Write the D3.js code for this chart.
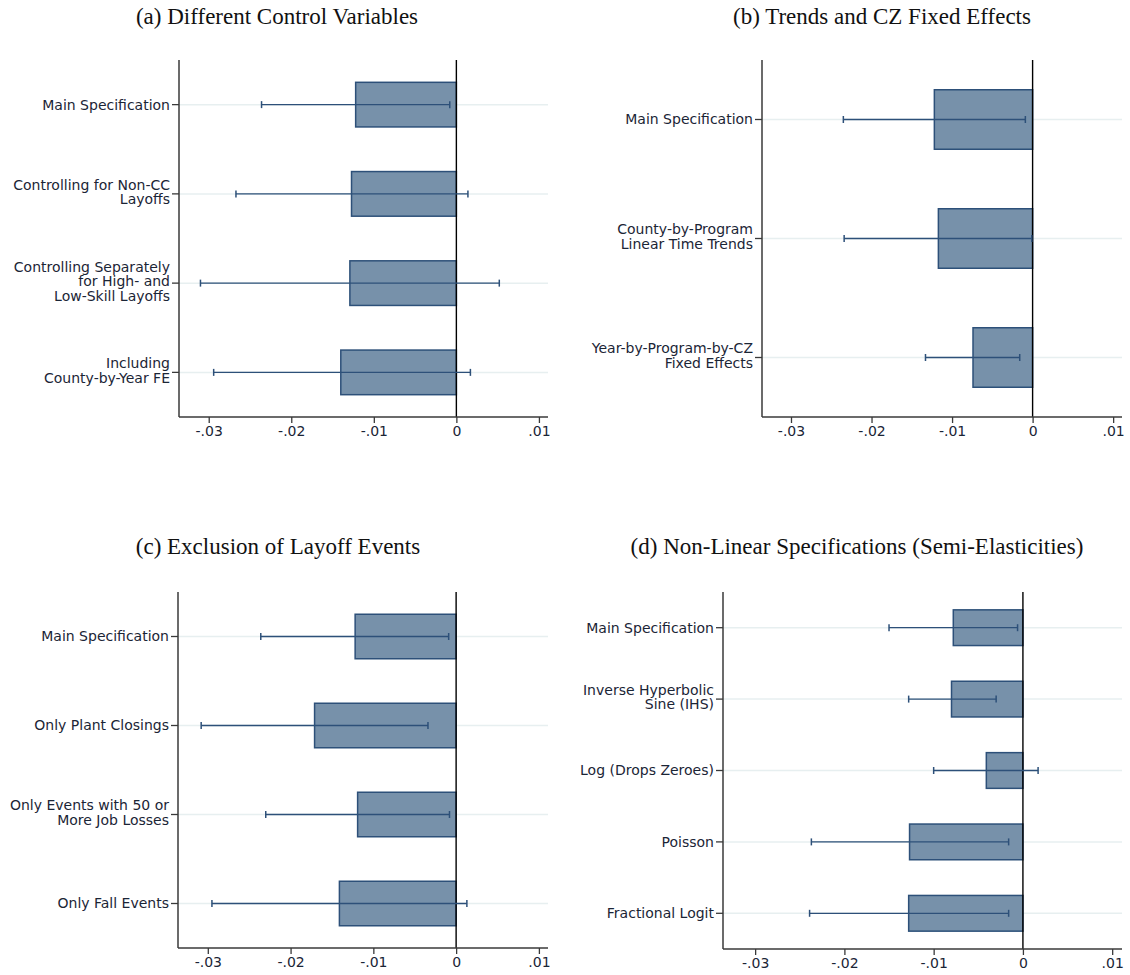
<!DOCTYPE html>
<html>
<head>
<meta charset="utf-8">
<script src="https://cdn.jsdelivr.net/npm/d3@7"></script>
<style>
  html, body { margin: 0; padding: 0; background: #fff; }
  svg { display: block; }
</style>
</head>
<body>
<svg id="chart" width="1130" height="975"></svg>
<script>
// Coefficient estimates with 95% confidence intervals, one set per panel.
const labelsA = [["Main Specification"], ["Controlling for Non-CC", "Layoffs"],
  ["Controlling Separately", "for High- and", "Low-Skill Layoffs"], ["Including", "County-by-Year FE"]];
const coefA = [-0.0122, -0.0127, -0.0129, -0.0140];
const lowA  = [-0.0236, -0.0267, -0.0310, -0.0294];
const highA = [-0.0008,  0.0014,  0.0052,  0.0017];

const labelsB = [["Main Specification"], ["County-by-Program", "Linear Time Trends"],
  ["Year-by-Program-by-CZ", "Fixed Effects"]];
const coefB = [-0.0122, -0.0117, -0.0074];
const lowB  = [-0.0235, -0.0234, -0.0133];
const highB = [-0.0009, -0.0001, -0.0016];

const labelsC = [["Main Specification"], ["Only Plant Closings"],
  ["Only Events with 50 or", "More Job Losses"], ["Only Fall Events"]];
const coefC = [-0.0122, -0.0171, -0.0119, -0.0141];
const lowC  = [-0.0236, -0.0308, -0.0230, -0.0295];
const highC = [-0.0009, -0.0034, -0.0008,  0.0013];

const labelsD = [["Main Specification"], ["Inverse Hyperbolic", "Sine (IHS)"],
  ["Log (Drops Zeroes)"], ["Poisson"], ["Fractional Logit"]];
const coefD = [-0.0078, -0.0080, -0.0041, -0.0127, -0.0128];
const lowD  = [-0.0150, -0.0128, -0.0100, -0.0237, -0.0239];
const highD = [-0.0006, -0.0030,  0.0017, -0.0016, -0.0016];

const titles = ["(a) Different Control Variables", "(b) Trends and CZ Fixed Effects",
  "(c) Exclusion of Layoff Events", "(d) Non-Linear Specifications (Semi-Elasticities)"];
const xTicks = [-0.03, -0.02, -0.01, 0, 0.01];
const xTickLabels = ["-.03", "-.02", "-.01", "0", ".01"];
const xDomain = [-0.0336, 0.0111];

// Panel frames (plot area) and title anchors
const frames = [
  { left: 179, right: 548,  top: 60,  bottom: 417, titleX: 277, titleY: 24 },
  { left: 762, right: 1122, top: 60,  bottom: 417, titleX: 882, titleY: 24 },
  { left: 178, right: 548,  top: 592, bottom: 948, titleX: 278, titleY: 554 },
  { left: 723, right: 1122, top: 592, bottom: 949, titleX: 857, titleY: 554 }
];

const panels = [
  { labels: labelsA, coef: coefA, low: lowA, high: highA },
  { labels: labelsB, coef: coefB, low: lowB, high: highB },
  { labels: labelsC, coef: coefC, low: lowC, high: highC },
  { labels: labelsD, coef: coefD, low: lowD, high: highD }
];

const BAR_FILL = "#7791aa";
const BAR_STROKE = "#2d5079";
const CI_COLOR = "#2d5079";
const GRID = "#e7eff0";
const AXIS = "#3a3a3a";
const TEXT = "#1b2536";
const SANS = "'DejaVu Sans', Verdana, sans-serif";
const SERIF = "'Liberation Serif', 'Times New Roman', serif";

const svg = d3.select("#chart");

panels.forEach((p, i) => {
  const f = frames[i];
  const idx = p.coef.map((_, k) => k);
  const x = d3.scaleLinear().domain(xDomain).range([f.left, f.right]);
  const y = d3.scaleBand().domain(idx).range([f.top, f.bottom])
    .paddingInner(0.5).paddingOuter(0.25);
  const cy = k => y(k) + y.bandwidth() / 2;

  const g = svg.append("g");

  // Title
  g.append("text")
    .attr("x", f.titleX).attr("y", f.titleY)
    .attr("text-anchor", "middle")
    .attr("font-family", SERIF).attr("font-size", 23)
    .attr("fill", "#111")
    .text(titles[i]);

  // Horizontal grid lines at each specification
  g.selectAll("line.grid").data(idx).join("line")
    .attr("class", "grid")
    .attr("x1", f.left).attr("x2", f.right)
    .attr("y1", cy).attr("y2", cy)
    .attr("stroke", GRID).attr("stroke-width", 1.5);

  // Bars from zero to the point estimate
  g.selectAll("rect.bar").data(idx).join("rect")
    .attr("class", "bar")
    .attr("x", k => Math.min(x(p.coef[k]), x(0)))
    .attr("width", k => Math.abs(x(p.coef[k]) - x(0)))
    .attr("y", k => y(k))
    .attr("height", y.bandwidth())
    .attr("fill", BAR_FILL)
    .attr("stroke", BAR_STROKE).attr("stroke-width", 1.5);

  // Zero reference line
  g.append("line")
    .attr("x1", x(0)).attr("x2", x(0))
    .attr("y1", f.top).attr("y2", f.bottom)
    .attr("stroke", "#000").attr("stroke-width", 1.4);

  // Confidence intervals
  const ci = g.selectAll("g.ci").data(idx).join("g").attr("class", "ci");
  ci.append("line")
    .attr("x1", k => x(p.low[k])).attr("x2", k => x(p.high[k]))
    .attr("y1", cy).attr("y2", cy)
    .attr("stroke", CI_COLOR).attr("stroke-width", 1.3);
  ["low", "high"].forEach(side => {
    ci.append("line")
      .attr("x1", k => x(p[side][k])).attr("x2", k => x(p[side][k]))
      .attr("y1", k => cy(k) - 3.5).attr("y2", k => cy(k) + 3.5)
      .attr("stroke", CI_COLOR).attr("stroke-width", 1.5);
  });

  // X axis
  const xAxis = d3.axisBottom(x)
    .tickValues(xTicks)
    .tickFormat((d, j) => xTickLabels[j])
    .tickSize(6).tickSizeOuter(0).tickPadding(3);
  const gx = g.append("g").attr("transform", `translate(0,${f.bottom})`).call(xAxis);
  gx.select(".domain").attr("stroke", AXIS).attr("stroke-width", 1.5)
    .attr("d", `M${f.left},0H${f.right}`);
  gx.selectAll(".tick line").attr("stroke", AXIS).attr("stroke-width", 1.3);
  gx.selectAll(".tick text").attr("font-family", SANS).attr("font-size", 14)
    .attr("fill", TEXT);

  // Y axis with multi-line category labels
  const yAxis = d3.axisLeft(y).tickSize(7).tickSizeOuter(0).tickFormat("");
  const gy = g.append("g").attr("transform", `translate(${f.left},0)`).call(yAxis);
  gy.select(".domain").attr("stroke", AXIS).attr("stroke-width", 1.5)
    .attr("d", `M0,${f.top}V${f.bottom}`);
  gy.selectAll(".tick line").attr("stroke", AXIS).attr("stroke-width", 1.3);
  gy.selectAll(".tick text").remove();

  const lab = g.selectAll("text.cat").data(idx).join("text")
    .attr("class", "cat")
    .attr("text-anchor", "end")
    .attr("font-family", SANS).attr("font-size", 14)
    .attr("fill", TEXT);
  lab.each(function (k) {
    const lines = p.labels[k];
    const n = lines.length;
    const lh = 14.5;
    d3.select(this).selectAll("tspan").data(lines).join("tspan")
      .attr("x", f.left - 9)
      .attr("y", (d, j) => cy(k) + (j - (n - 1) / 2) * lh - (n > 1 ? 2 : 0))
      .attr("dy", "0.35em")
      .text(d => d);
  });
});
</script>
</body>
</html>
